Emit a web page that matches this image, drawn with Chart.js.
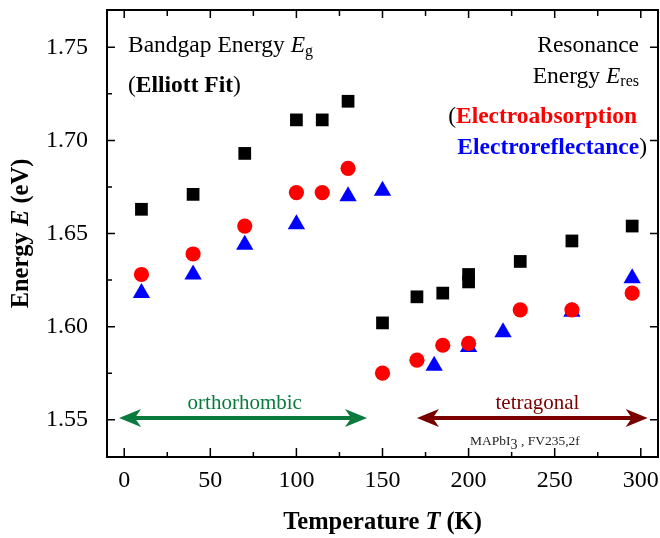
<!DOCTYPE html>
<html>
<head>
<meta charset="utf-8">
<script src="https://cdn.jsdelivr.net/npm/chart.js@4.4.1/dist/chart.umd.min.js"></script>
<style>
  html, body { margin: 0; padding: 0; background: #fff; }
  #wrap { width: 660px; height: 538px; }
</style>
</head>
<body>
<div id="wrap"><canvas id="chart" width="660" height="538"></canvas></div>
<script>
// Bandgap energy E_g, Elliott fit (black squares)
const tempGap = [10, 40, 70, 100, 115, 130, 150, 170, 185, 200, 200, 230, 260, 295];
const energyGap = [1.663, 1.671, 1.693, 1.711, 1.711, 1.721, 1.602, 1.616, 1.618, 1.628, 1.624, 1.635, 1.646, 1.654];

// Resonance energy from electroabsorption (red circles)
const tempEA = [10, 40, 70, 100, 115, 130, 150, 170, 185, 200, 230, 260, 295];
const energyEA = [1.628, 1.639, 1.654, 1.672, 1.672, 1.685, 1.575, 1.582, 1.590, 1.591, 1.609, 1.609, 1.618];

// Resonance energy from electroreflectance (blue triangles)
const tempER = [10, 40, 70, 100, 130, 150, 180, 200, 220, 260, 295];
const energyER = [1.618, 1.628, 1.644, 1.655, 1.670, 1.673, 1.579, 1.589, 1.597, 1.608, 1.626];

// axes
const xMajor = [0, 50, 100, 150, 200, 250, 300];
const xMinor = [25, 75, 125, 175, 225, 275];
const yMajor = [1.55, 1.60, 1.65, 1.70, 1.75];
const yMinor = [1.575, 1.625, 1.675, 1.725];

// crystal phase arrows
const phaseNames = ['orthorhombic', 'tetragonal'];
const phaseFrom = [-3, 170];
const phaseTo = [141, 304];
const phaseLabelT = [70, 240];
const phaseColors = ['#0b7a3d', '#7a0000'];
const phaseEnergy = 1.551;

const SERIF = '"Liberation Serif", "DejaVu Serif", serif';
const fnt = (size, style) => (style ? style + ' ' : '') + size + 'px ' + SERIF;

function drawRuns(ctx, runs, x, y, align) {
  let w = 0;
  runs.forEach(r => { ctx.font = r.font; r.w = ctx.measureText(r.text).width; w += r.w; });
  let cx = align === 'right' ? x - w : align === 'center' ? x - w / 2 : x;
  ctx.textAlign = 'left';
  ctx.textBaseline = 'alphabetic';
  runs.forEach(r => {
    ctx.font = r.font;
    ctx.fillStyle = r.color || '#000';
    ctx.fillText(r.text, cx, y + (r.dy || 0));
    cx += r.w;
  });
}

function arrowHead(ctx, tipX, y, dir) {
  const L = 22, W = 9;
  ctx.beginPath();
  ctx.moveTo(tipX, y);
  ctx.lineTo(tipX - dir * L, y - W);
  ctx.lineTo(tipX - dir * L * 0.72, y);
  ctx.lineTo(tipX - dir * L, y + W);
  ctx.closePath();
  ctx.fill();
}

const decorations = {
  id: 'decorations',
  afterDraw(chart) {
    const ctx = chart.ctx;
    const a = chart.chartArea;
    const xs = chart.scales.x, ys = chart.scales.y;
    ctx.save();

    // frame
    ctx.strokeStyle = '#000';
    ctx.lineWidth = 2;
    ctx.strokeRect(a.left, a.top, a.right - a.left, a.bottom - a.top);

    // inward ticks
    ctx.lineWidth = 1.5;
    ctx.beginPath();
    xMajor.forEach(v => {
      const p = xs.getPixelForValue(v);
      ctx.moveTo(p, a.bottom); ctx.lineTo(p, a.bottom - 9);
      ctx.moveTo(p, a.top); ctx.lineTo(p, a.top + 8);
    });
    xMinor.forEach(v => {
      const p = xs.getPixelForValue(v);
      ctx.moveTo(p, a.bottom); ctx.lineTo(p, a.bottom - 5);
      ctx.moveTo(p, a.top); ctx.lineTo(p, a.top + 6);
    });
    yMajor.forEach(v => {
      const p = ys.getPixelForValue(v);
      ctx.moveTo(a.left, p); ctx.lineTo(a.left + 8, p);
      ctx.moveTo(a.right, p); ctx.lineTo(a.right - 8, p);
    });
    yMinor.forEach(v => {
      const p = ys.getPixelForValue(v);
      ctx.moveTo(a.left, p); ctx.lineTo(a.left + 5, p);
    });
    ctx.stroke();

    // phase arrows
    const py = ys.getPixelForValue(phaseEnergy);
    phaseNames.forEach((name, i) => {
      const x0 = xs.getPixelForValue(phaseFrom[i]);
      const x1 = xs.getPixelForValue(phaseTo[i]);
      ctx.strokeStyle = phaseColors[i];
      ctx.fillStyle = phaseColors[i];
      ctx.lineWidth = 4;
      ctx.beginPath();
      ctx.moveTo(x0 + 14, py); ctx.lineTo(x1 - 14, py);
      ctx.stroke();
      arrowHead(ctx, x0, py, -1);
      arrowHead(ctx, x1, py, 1);
      drawRuns(ctx, [{ text: name, font: fnt(21), color: phaseColors[i] }],
        xs.getPixelForValue(phaseLabelT[i]), py - 9, 'center');
    });

    // sample label
    drawRuns(ctx, [
      { text: 'MAPbI', font: fnt(13.5), color: '#222' },
      { text: '3', font: fnt(14), color: '#222', dy: 4 },
      { text: ' , FV235,2f', font: fnt(13.5), color: '#222' }
    ], 470, 445, 'left');

    // annotations
    const L = a.left + 21, R = a.right - 19;
    drawRuns(ctx, [
      { text: 'Bandgap Energy ', font: fnt(23.5) },
      { text: 'E', font: fnt(23.5, 'italic') },
      { text: 'g', font: fnt(16), dy: 4 }
    ], L, 52, 'left');
    drawRuns(ctx, [
      { text: '(', font: fnt(23.5) },
      { text: 'Elliott Fit', font: fnt(23.5, 'bold') },
      { text: ')', font: fnt(23.5) }
    ], L, 92, 'left');
    drawRuns(ctx, [{ text: 'Resonance', font: fnt(23.5) }], R, 52, 'right');
    drawRuns(ctx, [
      { text: 'Energy ', font: fnt(23.5) },
      { text: 'E', font: fnt(23.5, 'italic') },
      { text: 'res', font: fnt(16), dy: 3 }
    ], R, 83, 'right');
    drawRuns(ctx, [
      { text: '(', font: fnt(23.5) },
      { text: 'Electroabsorption', font: fnt(23.5, 'bold'), color: '#ff0000' }
    ], R - 2, 123, 'right');
    drawRuns(ctx, [
      { text: 'Electroreflectance', font: fnt(23.5, 'bold'), color: '#0000ff' },
      { text: ')', font: fnt(23.5) }
    ], R + 8, 154, 'right');

    // axis titles
    drawRuns(ctx, [
      { text: 'Temperature ', font: fnt(24.5, 'bold') },
      { text: 'T', font: fnt(24.5, 'italic bold') },
      { text: ' (K)', font: fnt(24.5, 'bold') }
    ], (a.left + a.right) / 2, 529, 'center');

    ctx.translate(28, (a.top + a.bottom) / 2);
    ctx.rotate(-Math.PI / 2);
    drawRuns(ctx, [
      { text: 'Energy ', font: fnt(24.5, 'bold') },
      { text: 'E', font: fnt(24.5, 'italic bold') },
      { text: ' (eV)', font: fnt(24.5, 'bold') }
    ], 0, 0, 'center');

    ctx.restore();
  }
};

const toPoints = (xs, ys) => xs.map((x, i) => ({ x: x, y: ys[i] }));

new Chart(document.getElementById('chart'), {
  type: 'scatter',
  data: {
    datasets: [
      {
        label: 'Bandgap (Elliott fit)',
        data: toPoints(tempGap, energyGap),
        pointStyle: 'rect',
        pointRadius: 9,
        backgroundColor: '#000',
        borderWidth: 0
      },
      {
        label: 'Electroabsorption',
        data: toPoints(tempEA, energyEA),
        pointStyle: 'circle',
        pointRadius: 7.6,
        backgroundColor: '#ff0000',
        borderWidth: 0
      },
      {
        label: 'Electroreflectance',
        data: toPoints(tempER, energyER),
        pointStyle: 'triangle',
        pointRadius: 10,
        backgroundColor: '#0000ff',
        borderWidth: 0
      }
    ]
  },
  options: {
    responsive: false,
    animation: false,
    events: [],
    layout: { autoPadding: false, padding: { top: 10, right: 2, left: 0, bottom: 0 } },
    plugins: {
      legend: { display: false },
      tooltip: { enabled: false }
    },
    scales: {
      x: {
        type: 'linear',
        min: -10,
        max: 310,
        grid: { display: false, drawTicks: false },
        border: { display: false },
        afterBuildTicks: s => { s.ticks = xMajor.map(v => ({ value: v })); },
        ticks: {
          padding: 0,
          color: '#000',
          font: { family: SERIF, size: 24, lineHeight: 2 },
          callback: v => String(v)
        },
        afterFit: s => { s.height = 81; s.paddingLeft = 0; s.paddingRight = 0; }
      },
      y: {
        min: 1.53,
        max: 1.77,
        grid: { display: false, drawTicks: false },
        border: { display: false },
        afterBuildTicks: s => { s.ticks = yMajor.map(v => ({ value: v })); },
        ticks: {
          padding: 19,
          color: '#000',
          font: { family: SERIF, size: 24 },
          callback: v => v.toFixed(2)
        },
        afterFit: s => { s.width = 107; s.paddingTop = 0; s.paddingBottom = 0; }
      }
    }
  },
  plugins: [decorations]
});
</script>
</body>
</html>
